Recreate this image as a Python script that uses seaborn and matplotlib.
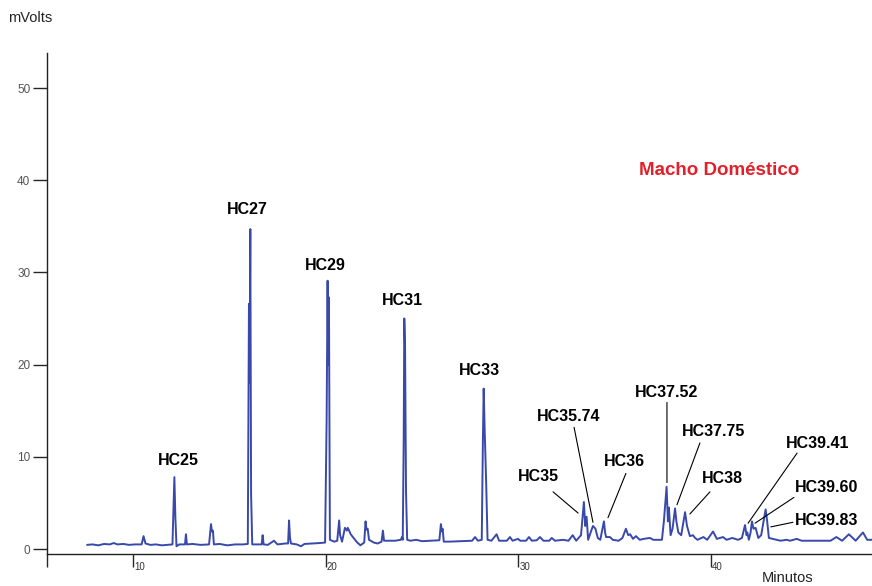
import matplotlib
matplotlib.use("Agg")
import matplotlib.pyplot as plt
import matplotlib.transforms as mtransforms
import seaborn as sns
import pandas as pd

# Chromatogram trace: retention time (min) and detector signal (mV)
tiempo = [
    7.62, 7.9, 8.2, 8.5, 8.8, 9.0, 9.2, 9.5, 9.8, 10.1, 10.45, 10.55, 10.65, 10.9,
    11.2, 11.5, 11.8, 12.05, 12.15, 12.2, 12.26, 12.4, 12.7, 12.75, 12.8, 13.1,
    13.5, 13.95, 14.05, 14.1, 14.15, 14.2, 14.5, 14.9, 15.3, 15.7, 15.96, 16.02,
    16.05, 16.09, 16.13, 16.19, 16.5, 16.68, 16.73, 16.78, 17.0, 17.32, 17.5,
    17.9, 18.05, 18.1, 18.15, 18.2, 18.5, 18.72, 18.9, 19.3, 19.7, 19.97, 20.05,
    20.10, 20.13, 20.17, 20.22, 20.45, 20.6, 20.7, 20.75, 20.85, 21.0, 21.1,
    21.15, 21.3, 21.45, 21.6, 21.8, 22.0, 22.07, 22.12, 22.18, 22.25, 22.5, 22.7,
    22.9, 22.97, 23.03, 23.3, 23.6, 23.9, 23.96, 24.0, 24.05, 24.08, 24.12, 24.17,
    24.23, 24.4, 24.7, 25.0, 25.5, 25.9, 25.98, 26.03, 26.07, 26.13, 26.4, 27.0,
    27.6, 27.75, 27.9, 28.1, 28.16, 28.2, 28.25, 28.33, 28.4, 28.6, 28.87, 29.0,
    29.4, 29.56, 29.7, 29.98, 30.1, 30.4, 30.55, 30.7, 30.95, 31.12, 31.3, 31.6,
    31.73, 31.9, 32.32, 32.6, 32.82, 33.0, 33.25, 33.4, 33.47, 33.54, 33.62,
    33.75, 33.87, 34.0, 34.12, 34.25, 34.44, 34.5, 34.55, 34.75, 34.9, 35.2,
    35.4, 35.58, 35.7, 35.8, 35.95, 36.1, 36.3, 36.5, 36.83, 37.0, 37.17, 37.45,
    37.55, 37.69, 37.76, 37.81, 37.9, 38.0, 38.13, 38.2, 38.3, 38.45, 38.65,
    38.75, 38.9, 39.06, 39.17, 39.3, 39.6, 39.8, 40.1, 40.3, 40.62, 40.8, 41.1,
    41.4, 41.6, 41.76, 41.84, 41.88, 41.96, 42.05, 42.12, 42.2, 42.31, 42.45,
    42.6, 42.83, 42.9, 43.0, 43.4, 43.6, 43.92, 44.1, 44.44, 44.7, 45.5, 46.2,
    46.5, 46.8, 47.15, 47.5, 47.88, 48.1, 48.35,
]
senal = [
    0.45, 0.5, 0.4, 0.55, 0.5, 0.65, 0.5, 0.55, 0.45, 0.5, 0.5, 1.4, 0.6, 0.45,
    0.5, 0.4, 0.45, 0.5, 7.8, 3.5, 0.3, 0.5, 0.5, 1.6, 0.5, 0.55,
    0.45, 0.5, 2.7, 1.9, 2.0, 0.5, 0.55, 0.4, 0.5, 0.5, 0.55, 26.6,
    18.0, 34.7, 6.0, 0.5, 0.5, 0.5, 1.5, 0.5, 0.45, 0.9, 0.5,
    0.6, 0.6, 3.1, 1.2, 0.6, 0.5, 0.3, 0.55, 0.6, 0.65, 0.7, 14.0,
    29.1, 20.0, 27.3, 1.0, 0.8, 0.9, 3.1, 1.5, 0.8, 2.3, 2.0,
    2.3, 1.6, 1.2, 0.8, 0.4, 0.7, 3.0, 2.1, 2.2, 1.0, 0.7, 0.6,
    0.8, 2.0, 0.9, 0.9, 0.9, 1.0, 1.3, 1.0, 12.0, 25.0, 22.0, 6.2,
    1.0, 0.9, 1.0, 0.85, 0.9, 0.95, 2.7, 1.9, 2.2, 0.8, 0.8, 0.85,
    0.9, 1.3, 0.9, 1.0, 12.0, 17.4, 13.0, 7.1, 1.0, 0.9, 1.6, 0.9,
    0.9, 1.3, 0.9, 1.1, 0.9, 0.9, 1.3, 0.9, 0.95, 1.3, 0.9, 0.9,
    1.2, 0.9, 1.0, 0.9, 1.5, 0.9, 1.5, 5.1, 2.5, 3.5, 1.0,
    1.8, 2.5, 2.2, 1.2, 1.0, 3.0, 1.8, 1.3, 1.3, 1.0, 0.9,
    1.2, 2.2, 1.5, 1.6, 1.1, 1.4, 1.0, 1.1, 1.2, 1.0, 1.0, 1.0,
    3.0, 6.75, 3.0, 4.5, 1.5, 2.2, 4.4, 3.0, 1.8, 1.5, 4.0,
    2.5, 1.4, 1.5, 1.2, 1.0, 1.3, 1.0, 1.9, 1.1, 1.3, 1.0, 1.2,
    1.0, 1.2, 2.6, 1.5, 1.8, 1.0, 1.8, 3.0, 2.2, 2.3, 1.2,
    1.5, 4.3, 3.2, 1.2, 1.0, 0.9, 1.0, 0.9, 1.1, 0.9, 0.9, 0.9,
    1.3, 0.9, 1.6, 0.9, 1.8, 1.0, 1.0,
]

# Peak labels: text, label centre (min, mV), leader line start and end (or None)
etiquetas = ["HC25", "HC27", "HC29", "HC31", "HC33", "HC35", "HC35.74", "HC36",
             "HC37.52", "HC37.75", "HC38", "HC39.41", "HC39.60", "HC39.83"]
etiqueta_x = [12.35, 15.92, 19.96, 23.96, 27.96, 31.02, 32.63, 35.48,
              37.71, 40.15, 40.57, 45.55, 45.97, 46.0]
etiqueta_y = [9.65, 36.8, 30.8, 26.9, 19.4, 7.9, 14.4, 9.5,
              17.0, 12.7, 7.6, 11.4, 6.7, 3.1]
linea_desde = [None, None, None, None, None, (31.8, 6.2), (32.89, 13.2),
               (35.58, 8.2), (37.71, 15.9), (39.42, 11.5), (39.94, 6.2),
               (44.46, 10.4), (44.3, 5.6), (44.25, 2.9)]
linea_hasta = [None, None, None, None, None, (33.1, 3.9), (33.87, 2.9),
               (34.65, 3.4), (37.71, 7.2), (38.23, 4.8), (38.9, 3.8),
               (41.92, 2.8), (42.28, 2.8), (43.1, 2.4)]

marcas_x = [10, 20, 30, 40]
marcas_y = [0, 10, 20, 30, 40, 50]

sns.set_style("ticks")
plt.rcParams["font.family"] = ["Liberation Sans", "DejaVu Sans"]

df = pd.DataFrame({"Minutos": tiempo, "mVolts": senal})

fig = plt.figure(figsize=(8.72, 5.86), dpi=100)
ax = fig.add_axes([0.0539, 0.0546, 0.9461, 0.855])

sns.lineplot(data=df, x="Minutos", y="mVolts", ax=ax, color="#3949ab",
             linewidth=1.4, estimator=None, sort=False)

x_min, x_max = 5.54, 48.35
ax.set_xlim(x_min, x_max)
ax.set_ylim(-0.54, 53.8)

ax.set_xticks([x_min] + marcas_x)
ax.set_xticklabels([""] + [str(v) for v in marcas_x])
ax.set_yticks(marcas_y)
ax.set_yticklabels([str(v) for v in marcas_y])
ax.tick_params(axis="x", direction="out", length=9.5, width=1.0, pad=-3.5,
               labelsize=7, labelcolor="#333333")
ax.tick_params(axis="y", direction="out", length=10, width=1.0, pad=2,
               labelsize=8.5, labelcolor="#555555")
offset = mtransforms.ScaledTranslation(1 / 100, 0, fig.dpi_scale_trans)
for lab in ax.get_xticklabels():
    lab.set_horizontalalignment("left")
    lab.set_transform(lab.get_transform() + offset)

ax.set_xlabel("")
ax.set_ylabel("")
sns.despine(ax=ax, top=True, right=True)
for s in ("left", "bottom"):
    ax.spines[s].set_linewidth(1.0)
    ax.spines[s].set_color("#222222")

for txt, tx, ty, p0, p1 in zip(etiquetas, etiqueta_x, etiqueta_y,
                               linea_desde, linea_hasta):
    ax.text(tx, ty, txt, ha="center", va="center", fontsize=11.5,
            fontweight="bold", color="black")
    if p0 is not None:
        ax.annotate("", xy=p1, xytext=p0,
                    arrowprops=dict(arrowstyle="-", lw=0.8, color="black",
                                    shrinkA=0, shrinkB=0))

ax.text(40.41, 41.1, "Macho Doméstico", ha="center", va="center",
        fontsize=13.5, fontweight="bold", color="#e3202a")

fig.text(0.0092, 0.969, "mVolts", ha="left", va="center", fontsize=10.5,
         color="#222222")
fig.text(0.874, 0.0137, "Minutos", ha="left", va="center", fontsize=10.5,
         color="#222222")

fig.savefig("out.png", dpi=100)
